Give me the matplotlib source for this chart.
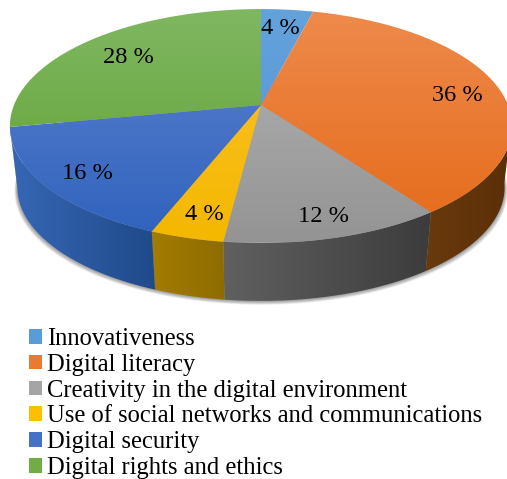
import numpy as np
from matplotlib import pyplot as plt
from matplotlib.colors import LinearSegmentedColormap
from matplotlib.patches import Patch, Polygon

categories = ['Innovativeness', 'Digital literacy', 'Creativity in the digital environment',
              'Use of social networks and communications', 'Digital security', 'Digital rights and ethics']
shares = [4, 36, 12, 4, 16, 28]

# colours run from the far edge of the disc to the near edge
top_far = ['#64a2dc', '#ee8a4c', '#b4b4b4', '#fbc22c', '#5f83cf', '#80b762']
top_near = ['#4f93d3', '#e56a18', '#949494', '#f4b800', '#2f62bd', '#5da02e']
# rim colours run left to right
side_left = ['#2b5a85', '#6a3a0c', '#606060', '#a37c00', '#3767b5', '#3e6f20']
side_right = ['#2b5a85', '#5a2e08', '#3c3c3c', '#8e6c00', '#1f4a8a', '#3e6f20']
legend_colors = ['#5a9cd8', '#ea7a30', '#a5a5a5', '#fcc000', '#4472c4', '#70ad47']
label_radius = [0.80, 0.83, 0.85, 0.84, 0.84, 0.78]
label_dx = [-2, 0, 1, 4, 3, 4]
label_dy = [2, 8, 2, 2, 1, 4]

CX, CY = 261, 105
A, B, K = 247, 113.2, 0.18
DROP, SHRINK = 62, 0.97


def project(theta, r=1.0):
    # circle -> screen with a little perspective, theta clockwise from 12 o'clock
    u = r * np.sin(theta)
    v = r * np.cos(theta)
    w = 1 + K * v
    return CX + A * u / w, CY - B * v / w


def projectBottom(theta):
    x, y = project(theta)
    return CX + SHRINK * (x - CX), CY + DROP + SHRINK * (y - CY)


def gradientFill(ax, verts, c0, c1, horizontal=False, span=(0, 507)):
    cmap = LinearSegmentedColormap.from_list('g', [c0, c1])
    grad = np.linspace(0, 1, 256)
    if horizontal:
        arr = grad[None, :]
        extent = (span[0], span[1], 479, 0)
    else:
        arr = grad[:, None]
        extent = (0, 507, span[1], span[0])
    im = ax.imshow(arr, cmap=cmap, extent=extent, aspect='auto', origin='upper',
                   interpolation='bilinear', zorder=3)
    patch = Polygon(verts, closed=True, transform=ax.transData, facecolor='none', edgecolor='none')
    ax.add_patch(patch)
    im.set_clip_path(patch)


fig = plt.figure(figsize=(5.07, 4.79), dpi=100)
ax = fig.add_axes([0, 0, 1, 1])

fracs = np.cumsum([0] + shares) / np.sum(shares)
angles = fracs * 2 * np.pi

# soft shadow under the disc
t = np.linspace(0, 2 * np.pi, 300)
bx, by = projectBottom(t)
for off in np.arange(5, 0, -0.5):
    ax.fill(CX + (bx - CX) * (1 + off / 400), by + off * 0.8, color='black', alpha=0.045, lw=0, zorder=1)

# rim, only the part that faces the viewer
front_start, front_end = np.radians(98), np.radians(260)
for i in range(len(shares)):
    t0 = max(angles[i], front_start)
    t1 = min(angles[i + 1], front_end)
    if t1 <= t0:
        continue
    t = np.linspace(t0, t1, 80)
    x1, y1 = project(t)
    x2, y2 = projectBottom(t)
    verts = np.r_[np.c_[x1, y1], np.c_[x2, y2][::-1]]
    gradientFill(ax, verts, side_left[i], side_right[i], horizontal=True,
                 span=(verts[:, 0].min(), verts[:, 0].max()))

# top face
for i in range(len(shares)):
    t = np.linspace(angles[i], angles[i + 1], 120)
    x, y = project(t)
    verts = np.r_[[[CX, CY]], np.c_[x, y]]
    gradientFill(ax, verts, top_far[i], top_near[i], span=(9, 242))

for i, share in enumerate(shares):
    mid = (angles[i] + angles[i + 1]) / 2
    x, y = project(mid, label_radius[i])
    ax.text(x + label_dx[i], y + label_dy[i], '{0} %'.format(share), ha='center', va='center',
            fontsize=17.6, family='Liberation Serif', color='black', zorder=5)

handles = [Patch(facecolor=c, edgecolor='none') for c in legend_colors]
ax.legend(handles, categories, loc='upper left', bbox_to_anchor=(29 / 507, 1 - 328 / 479),
          frameon=False, prop={'family': 'Liberation Serif', 'size': 17.7},
          handlelength=0.53, handleheight=0.53, handletextpad=0.2, labelspacing=0.155,
          borderpad=0, borderaxespad=0)

ax.set_xlim(0, 507)
ax.set_ylim(479, 0)
ax.axis('off')
fig.savefig('out.png', dpi=100)
